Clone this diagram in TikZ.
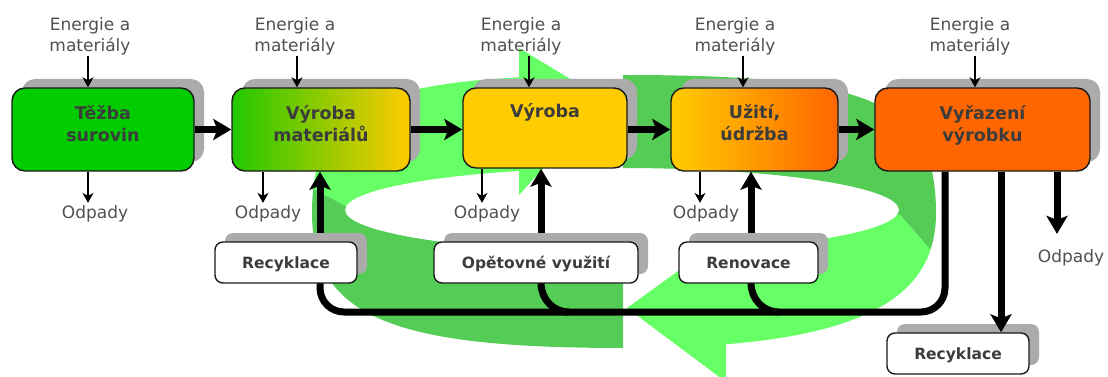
\documentclass[tikz,border=0pt]{standalone}
\usepackage{fontspec}
\setmainfont{DejaVu Sans}
\usetikzlibrary{arrows.meta,calc,shadows}
\definecolor{lgreen}{RGB}{102,255,102}
\definecolor{dgreen}{RGB}{85,204,85}
\definecolor{boxgreen}{RGB}{0,204,0}
\definecolor{matgreen}{RGB}{34,200,0}
\definecolor{yel}{RGB}{255,204,0}
\definecolor{ora}{RGB}{255,102,0}
\definecolor{shadowgray}{RGB}{171,171,171}
\definecolor{txtgray}{RGB}{80,80,80}
\definecolor{lblgray}{RGB}{60,60,60}
\definecolor{edgecol}{RGB}{25,25,25}
\begin{document}
\begin{tikzpicture}[x=1pt,y=-1pt,
  ring/.style={insert path={(312,213) .. controls (312,103) and (374,75) .. (624,75) .. controls (874,75) and (936,103) .. (936,213) .. controls (936,300) and (860,348) .. (624,348) .. controls (400,348) and (312,320) .. (312,213) -- cycle (622,210) ellipse [x radius=277, y radius=42]}},
  boxshadow/.style={drop shadow={shadow xshift=10pt, shadow yshift=9pt, fill=shadowgray, opacity=1}},
  mbox/.style={draw=edgecol, line width=1.4pt, rounded corners=13pt, minimum height=83pt, inner sep=0pt, boxshadow},
  sbox/.style={draw=edgecol, line width=1.4pt, fill=white, rounded corners=8pt, minimum height=41pt, inner sep=0pt, text height=11.3pt, text depth=0pt, font=\fontsize{15.5}{18}\selectfont\bfseries, text=lblgray, boxshadow},
  lbl/.style={font=\fontsize{17.5}{22}\selectfont\bfseries, text=lblgray, align=center, inner sep=0pt, anchor=base},
  txt/.style={font=\fontsize{17}{21}\selectfont, text=txtgray, align=center, inner sep=0pt, anchor=base},
  flow/.style={line width=7pt},
  bigarrow/.style={line width=7pt, -{Stealth[length=18pt,width=21pt,inset=4pt]}},
  thinarrow/.style={line width=1.3pt, -{Stealth[length=10pt,width=11pt,inset=3pt]}}
]
\useasboundingbox (0,0) rectangle (1108,377);
\clip (0,0) rectangle (1108,377);

% ---- green circular arrows ----
\begin{scope}
  \clip (200,-10) -- (519,-10) -- (519,207) -- (347,207) -- (250,154) -- (200,154) -- cycle;
  \fill[lgreen, even odd rule, ring];
\end{scope}
\begin{scope}
  \clip (200,154) -- (250,154) -- (347,207) -- (623,210) -- (623,400) -- (200,400) -- cycle;
  \fill[dgreen, even odd rule, ring];
\end{scope}
\begin{scope}
  \clip (623,-10) -- (1050,-10) -- (1050,386) -- (900,215) -- (623,210) -- cycle;
  \fill[dgreen, even odd rule, ring];
\end{scope}
\begin{scope}
  \clip (1050,386) -- (900,215) -- (725,212) -- (725,400) -- (1050,400) -- cycle;
  \fill[lgreen, even odd rule, ring];
\end{scope}
\fill[lgreen] (519,48) -- (605,100) -- (519,195) -- cycle;
\fill[lgreen] (725,237) -- (627,308) -- (726,382) -- cycle;

% ---- helper coordinates ----
\coordinate (hline) at (0,312);
\coordinate (ybot) at (0,283);
\coordinate (ytop) at (0,242);
\coordinate (x320) at (320,0);
\coordinate (x541) at (541,0);
\coordinate (x751) at (751,0);
\coordinate (x945) at (945,0);
\coordinate (x1001) at (1001,0);
\coordinate (xa1) at (88,0);
\coordinate (xa2) at (297,0);
\coordinate (xa3) at (529,0);
\coordinate (xa4) at (743,0);
\coordinate (xa5) at (975,0);
\coordinate (xo1) at (88,0);
\coordinate (xo2) at (263,0);
\coordinate (xo3) at (482,0);
\coordinate (xo4) at (700,0);
\coordinate (xo5) at (1057,0);

% ---- main boxes ----
\node[mbox, minimum width=182pt, fill=boxgreen] (t1) at (103,129.5) {};
\node[mbox, minimum width=178pt, left color=matgreen, right color=yel] (t2) at (321,129.5) {};
\node[mbox, minimum width=164pt, minimum height=80pt, fill=yel] (t3) at (545,128) {};
\node[mbox, minimum width=167pt, left color=yel, right color=ora] (t4) at (754.5,129.5) {};
\node[mbox, minimum width=215pt, fill=ora] (t5) at (982.5,129.5) {};

% ---- collector lines and upward arrows (under the lower boxes) ----
\draw[flow, rounded corners=24pt] (t5.south -| x945) -- (x945 |- hline) -- (x320 |- hline) -- (x320 |- ybot);
\draw[flow] (x541 |- ybot) .. controls +(0,16) and +(-16,0) .. ($(x541 |- hline)+(28,0)$);
\draw[flow] (x751 |- ybot) .. controls +(0,16) and +(-16,0) .. ($(x751 |- hline)+(28,0)$);
\draw[bigarrow] (x320 |- ytop) -- (t2.south -| x320);
\draw[bigarrow] (x541 |- ytop) -- (t3.south -| x541);
\draw[bigarrow] (x751 |- ytop) -- (t4.south -| x751);

\node[sbox, minimum width=142pt] (r1) at (286,262.5) {Recyklace};
\node[sbox, minimum width=204pt] (r2) at (536,262.5) {Opětovné využití};
\node[sbox, minimum width=139pt] (r3) at (748.5,262.5) {Renovace};
\node[sbox, minimum width=142pt] (r4) at (958,353.5) {Recyklace};

% ---- box labels (base = last line) ----
\node[lbl] (l1) at ($(t1.north)+(0,54)$) {Těžba\\surovin};
\node[lbl] (l2) at ($(t2.north)+(0,54)$) {Výroba\\materiálů};
\node[lbl] (l3) at ($(t3.north)+(0,30)$) {Výroba};
\node[lbl] (l4) at ($(t4.north)+(0,53)$) {Užití,\\údržba};
\node[lbl] (l5) at ($(t5.north)+(0,54)$) {Vyřazení\\výrobku};

% ---- horizontal flow arrows ----
\draw[bigarrow] (t1.east) -- (t2.west);
\draw[bigarrow] (t2.east) -- (t2.east -| t3.west);
\draw[bigarrow] (t3.east |- t4.west) -- (t4.west);
\draw[bigarrow] (t4.east) -- (t5.west);

% ---- inputs ----
\node[txt] (e1) at (90,52) {Energie a\\materiály};
\node[txt] (e2) at (295,52) {Energie a\\materiály};
\node[txt] (e3) at (521,52) {Energie a\\materiály};
\node[txt] (e4) at (735,52) {Energie a\\materiály};
\node[txt] (e5) at (970,52) {Energie a\\materiály};
\draw[thinarrow] (e1.south -| xa1) -- (t1.north -| xa1);
\draw[thinarrow] (e2.south -| xa2) -- (t2.north -| xa2);
\draw[thinarrow] (e3.south -| xa3) -- (t3.north -| xa3);
\draw[thinarrow] (e4.south -| xa4) -- (t4.north -| xa4);
\draw[thinarrow] (e5.south -| xa5) -- (t5.north -| xa5);

% ---- waste ----
\node[txt] (o1) at (95,218) {Odpady};
\node[txt] (o2) at (268,218) {Odpady};
\node[txt] (o3) at (487,218) {Odpady};
\node[txt] (o4) at (706,218) {Odpady};
\node[txt] (o5) at (1071,262) {Odpady};
\draw[thinarrow, shorten >=2pt] (t1.south -| xo1) -- (o1.north -| xo1);
\draw[thinarrow, shorten >=2pt] (t2.south -| xo2) -- (o2.north -| xo2);
\draw[thinarrow, shorten >=2pt] (t3.south -| xo3) -- (o3.north -| xo3);
\draw[thinarrow, shorten >=2pt] (t4.south -| xo4) -- (o4.north -| xo4);
\draw[bigarrow, shorten >=15pt] (t5.south -| xo5) -- (o5.north -| xo5);
\draw[bigarrow] (t5.south -| x1001) -- (r4.north -| x1001);
\end{tikzpicture}
\end{document}
